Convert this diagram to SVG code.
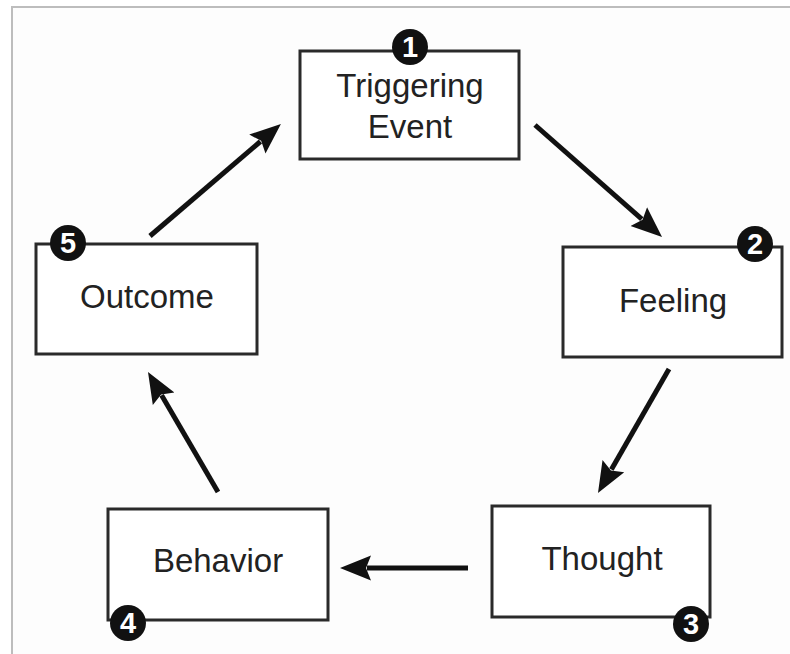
<svg xmlns="http://www.w3.org/2000/svg" width="790" height="654" viewBox="0 0 790 654">
<style>
.box{fill:#ffffff;stroke:#2a2a2a;stroke-width:3}
.lbl{font-family:"Liberation Sans",Arial,sans-serif;font-size:33px;fill:#222;text-anchor:middle}
.badge{fill:#111}
.num{font-family:"Liberation Sans",Arial,sans-serif;font-size:29px;font-weight:bold;fill:#fff;text-anchor:middle}
.arr{stroke:#111;stroke-width:5;fill:none;marker-end:url(#ah)}
</style>
<defs>
<marker id="ah" markerUnits="userSpaceOnUse" markerWidth="34" markerHeight="30" viewBox="0 -15 34 30" refX="4" refY="0" orient="auto">
<path d="M0,-12.5 L31,0 L0,12.5 L5,0 z" fill="#111"/>
</marker>
</defs>
<rect x="0" y="0" width="790" height="654" fill="#fff"/>
<rect x="12" y="7" width="800" height="700" fill="#fdfdfd" stroke="#bdbdbd" stroke-width="2"/>
<g id="connectors">
<line class="arr" x1="150" y1="236" x2="260.4" y2="141.5"/>
<line class="arr" x1="535" y1="125" x2="641.8" y2="219.2"/>
<line class="arr" x1="669" y1="369" x2="611.4" y2="469.6"/>
<line class="arr" x1="468" y1="568" x2="367" y2="568"/>
<line class="arr" x1="218" y1="492" x2="161.6" y2="395.3"/>
</g>
<g id="node1">
<rect class="box" x="300" y="51" width="219" height="108"/>
<text class="lbl" x="410" y="97">Triggering</text>
<text class="lbl" x="410" y="138">Event</text>
<circle class="badge" cx="410" cy="47" r="18"/>
<text class="num" x="410" y="57">1</text>
</g>
<g id="node2">
<rect class="box" x="563" y="247" width="219" height="110"/>
<text class="lbl" x="673" y="312">Feeling</text>
<circle class="badge" cx="755" cy="244" r="18"/>
<text class="num" x="755" y="254">2</text>
</g>
<g id="node3">
<rect class="box" x="492" y="506" width="218" height="111"/>
<text class="lbl" x="602" y="570">Thought</text>
<circle class="badge" cx="691" cy="624" r="18"/>
<text class="num" x="691" y="634">3</text>
</g>
<g id="node4">
<rect class="box" x="108" y="509" width="220" height="111"/>
<text class="lbl" x="218" y="572">Behavior</text>
<circle class="badge" cx="128" cy="623" r="18"/>
<text class="num" x="128" y="633">4</text>
</g>
<g id="node5">
<rect class="box" x="36" y="244" width="221" height="110"/>
<text class="lbl" x="147" y="308">Outcome</text>
<circle class="badge" cx="68" cy="243" r="18"/>
<text class="num" x="68" y="253">5</text>
</g>
</svg>
